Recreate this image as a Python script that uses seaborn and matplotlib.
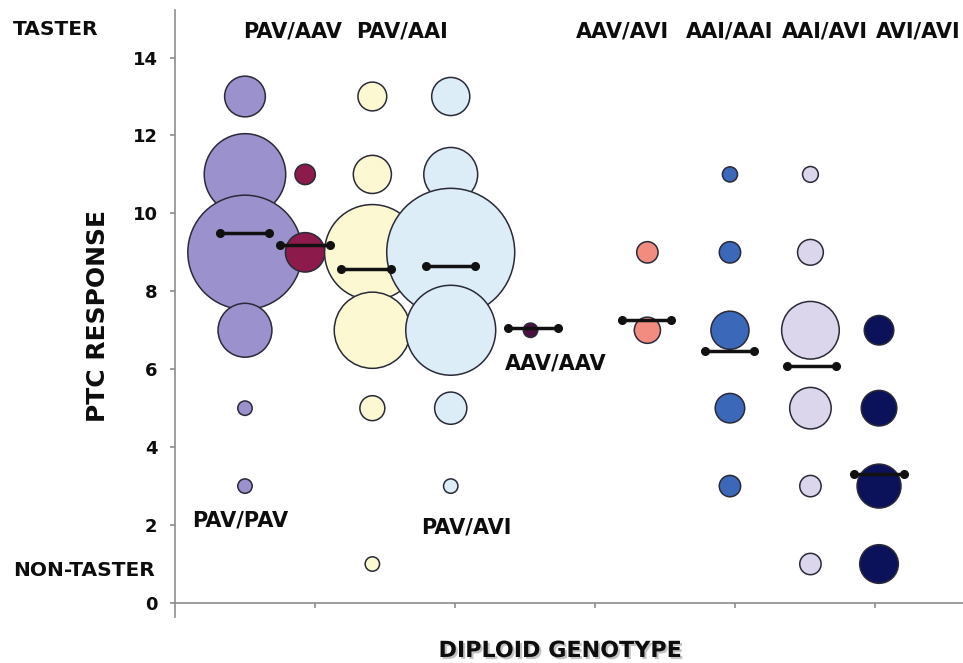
#!/usr/bin/env python3
"""PTC response by diploid genotype - bubble chart with group means"""

import numpy as np
import pandas as pd
import matplotlib
matplotlib.use("Agg")
import matplotlib.pyplot as plt
import matplotlib.patheffects as pe
import seaborn as sns

# Data
genotypes = ["PAV/PAV", "PAV/AAV", "PAV/AAI", "PAV/AVI", "AAV/AAV",
             "AAV/AVI", "AAI/AAI", "AAI/AVI", "AVI/AVI"]
genotype_x = [0.50, 0.93, 1.41, 1.97, 2.54, 3.375, 3.965, 4.54, 5.03]

responses = [
    [13, 11, 9, 7, 5, 3],
    [11, 9],
    [13, 11, 9, 7, 5, 1],
    [13, 11, 9, 7, 5, 3],
    [7],
    [9, 7],
    [11, 9, 7, 5, 3],
    [11, 9, 7, 5, 3, 1],
    [7, 5, 3, 1],
]
counts = [
    [8, 32, 63, 14, 1, 1],
    [2, 7.5],
    [4, 7, 44, 28, 3, 1],
    [7, 14, 79, 39, 5, 1],
    [1],
    [2.2, 3.3],
    [1.1, 2.2, 7, 4.2, 2.2],
    [1.2, 3.2, 16, 8.3, 2.2, 2.2],
    [4.2, 6.1, 9.3, 7.2],
]

mean_x = [0.496, 0.929, 1.364, 1.966, 2.557, 3.371, 3.961, 4.548, 5.029]
mean_response = [9.50, 9.20, 8.58, 8.64, 7.05, 7.27, 6.46, 6.08, 3.30]

colors = ["#9b91cc", "#8c1a4b", "#fcf9d2", "#dcedf7", "#4a1040",
          "#f28b80", "#3b68b8", "#dcd6ec", "#0b125a"]

# Label placement (data coords)
top_labels = ["PAV/AAV", "PAV/AAI", "AAV/AVI", "AAI/AAI", "AAI/AVI", "AVI/AVI"]
top_label_x = [0.84, 1.62, 3.20, 3.96, 4.64, 5.31]
inner_labels = ["PAV/PAV", "PAV/AVI", "AAV/AAV"]
inner_label_xy = [(0.464, 2.12), (2.08, 1.94), (2.72, 6.14)]

sns.set_style("white")
plt.rcParams['font.family'] = ['DejaVu Sans']
plt.rcParams['font.weight'] = 'bold'

rows = []
for g, gx, ys, ns in zip(genotypes, genotype_x, responses, counts):
    for y, n in zip(ys, ns):
        rows.append({'genotype': g, 'pos': gx, 'response': y, 'count': n})
df = pd.DataFrame(rows)

fig = plt.figure(figsize=(9.63, 6.63), dpi=100)
ax = fig.add_axes([175 / 963, 1 - 617 / 663, 1 - 175 / 963, 607 / 663])

max_n = df['count'].max()
area_per_count = 107.5  # points^2 for one count
sns.scatterplot(data=df, x='pos', y='response', hue='genotype',
                palette=dict(zip(genotypes, colors)), size='count',
                sizes=(0, area_per_count * max_n), size_norm=(0, max_n),
                edgecolor='#2a2a38', linewidth=1.1, alpha=1,
                legend=False, ax=ax, zorder=2)

# mean bars with dotted ends
half = 0.176
for mx, my in zip(mean_x, mean_response):
    ax.plot([mx - half, mx + half], [my, my], color='#111111', lw=2.5,
            marker='o', markersize=5.5, solid_capstyle='butt', zorder=3)

txt_color = '#0d0d0d'
for lab, lx in zip(top_labels, top_label_x):
    ax.text(lx, 14.66, lab, ha='center', va='center', fontsize=15,
            fontweight='bold', color=txt_color)
for lab, (lx, ly) in zip(inner_labels, inner_label_xy):
    ax.text(lx, ly, lab, ha='center', va='center', fontsize=15,
            fontweight='bold', color=txt_color)

ax.set_xlim(0, 5.63)
ax.set_ylim(-0.36, 15.22)
ax.spines['bottom'].set_position(('data', 0))
for side in ['top', 'right']:
    ax.spines[side].set_visible(False)
for side in ['left', 'bottom']:
    ax.spines[side].set_color('#8c8c8c')
    ax.spines[side].set_linewidth(1.2)

ax.set_yticks(np.arange(0, 15, 2))
ax.set_xticks([1, 2, 3, 4, 5])
ax.set_xticklabels([])
ax.tick_params(axis='y', direction='out', length=3.6, width=1.2,
               color='#8c8c8c', labelsize=13, pad=9, left=True)
ax.tick_params(axis='x', direction='out', length=3.6, width=1.2,
               color='#8c8c8c', bottom=True)
for t in ax.get_yticklabels():
    t.set_fontweight('bold')
    t.set_color(txt_color)

ax.set_xlabel('')
ax.set_ylabel('PTC RESPONSE', fontsize=18, fontweight='bold', color=txt_color)
ax.yaxis.set_label_coords(-0.0825, 0.496)

fig.text(560 / 963, 1 - 651 / 663, 'DIPLOID GENOTYPE', ha='center', va='center',
         fontsize=16, fontweight='bold', color=txt_color,
         path_effects=[pe.withSimplePatchShadow(offset=(1.5, -1.5),
                                                 shadow_rgbFace='#888888', alpha=0.5)])
fig.text(12.7 / 963, 1 - 29.5 / 663, 'TASTER', ha='left', va='center',
         fontsize=14.5, fontweight='bold', color=txt_color)
fig.text(13 / 963, 1 - 571 / 663, 'NON-TASTER', ha='left', va='center',
         fontsize=14.5, fontweight='bold', color=txt_color)

fig.savefig('out.png', dpi=100, facecolor='white')
plt.close(fig)
